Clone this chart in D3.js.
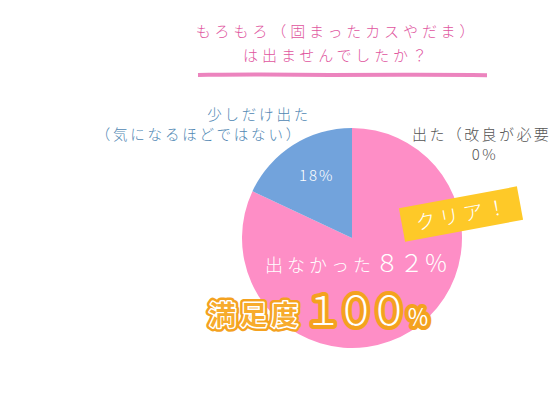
<!DOCTYPE html>
<html>
<head>
<meta charset="utf-8">
<script src="https://cdn.jsdelivr.net/npm/d3@7"></script>
<style>
  html, body { margin: 0; padding: 0; background: #fff; overflow: hidden; }
  text { font-family: "Noto Sans CJK JP", sans-serif; }
</style>
</head>
<body>
<script>
// survey answers (percent)
let categories = ["出なかった", "出た（改良が必要）", "少しだけ出た"];
let values = [82, 0, 18];
let colors = ["#fe8ec6", "#fe8ec6", "#72a3dc"];
let titleLines = ["もろもろ（固まったカスやだま）", "は出ませんでしたか？"];

let w = 550, h = 411;
let cx = 352, cy = 238, r = 110;

let svg = d3.select("body").append("svg").attr("width", w).attr("height", h);

// full-width digits like the original artwork
function full(s) {
  return String(s).replace(/[0-9%]/g, ch => String.fromCharCode(ch.charCodeAt(0) + 0xFEE0));
}

// title
svg.selectAll("text.title")
  .data(titleLines)
  .enter()
  .append("text")
  .attr("class", "title")
  .attr("x", 337)
  .attr("y", (d, i) => 37 + i * 24)
  .attr("text-anchor", "middle")
  .attr("font-size", 15)
  .attr("font-weight", 300)
  .attr("letter-spacing", 3.9)
  .attr("fill", "#e0559e")
  .text(d => d);

// brush underline
let brush = d3.line().curve(d3.curveBasis);
let under = [[198, 75], [260, 74.2], [330, 75.4], [400, 74.4], [487, 75.2]];
svg.append("path")
  .attr("d", brush(under))
  .attr("fill", "none")
  .attr("stroke", "#e96fb3")
  .attr("stroke-width", 4)
  .attr("stroke-linecap", "butt")
  .attr("opacity", 0.85);

// pie
let pie = d3.pie().sort(null).value(d => d);
let arc = d3.arc().innerRadius(0).outerRadius(r);
let g = svg.append("g").attr("transform", `translate(${cx},${cy})`);
g.selectAll("path")
  .data(pie(values))
  .enter()
  .append("path")
  .attr("d", arc)
  .attr("fill", (d, i) => colors[i]);

// 18% label
let blue = pie(values)[2];
let lab = d3.arc().innerRadius(r * 0.6).outerRadius(r * 0.6);
let c = lab.centroid(blue);
g.append("text")
  .attr("x", c[0])
  .attr("y", c[1] - 1)
  .attr("text-anchor", "middle")
  .attr("font-size", 15)
  .attr("font-weight", 300)
  .attr("letter-spacing", 2)
  .attr("fill", "#fff")
  .text(values[2] + "%");

// outside labels
let blueLabel = svg.append("text")
  .attr("text-anchor", "end")
  .attr("font-size", 14.5)
  .attr("font-weight", 300)
  .attr("letter-spacing", 2.8)
  .attr("fill", "#4f87b3");
blueLabel.append("tspan").attr("x", 311).attr("y", 120).text(categories[2]);
blueLabel.append("tspan").attr("x", 303).attr("y", 140).text("（気になるほどではない）");

let grayLabel = svg.append("text")
  .attr("font-size", 15)
  .attr("font-weight", 300)
  .attr("letter-spacing", 2.4)
  .attr("fill", "#555");
grayLabel.append("tspan").attr("x", 412).attr("y", 140).text(categories[1]);
grayLabel.append("tspan").attr("x", 485).attr("y", 160).attr("text-anchor", "middle").text(values[1] + "%");

// badge
let badge = svg.append("g").attr("transform", "translate(461,214) rotate(-10.5)");
badge.append("rect")
  .attr("x", -60).attr("y", -17).attr("width", 120).attr("height", 34)
  .attr("fill", "#fec928");
badge.append("text")
  .attr("x", 2).attr("y", 8)
  .attr("text-anchor", "middle")
  .attr("font-size", 20)
  .attr("font-weight", 300)
  .attr("letter-spacing", 4)
  .attr("fill", "#fff")
  .text("クリア！");

// main pink label
let pinkLabel = svg.append("text")
  .attr("x", 265).attr("y", 272)
  .attr("fill", "#fff")
  .attr("font-weight", 300);
pinkLabel.append("tspan").attr("font-size", 18).attr("letter-spacing", 4).text(categories[0]);
pinkLabel.append("tspan").attr("font-size", 24).attr("letter-spacing", 0.5).text(full(values[0] + "%"));

// satisfaction
let sat = values[0] + values[2];
function satText(layer) {
  let t = svg.append("text").attr("x", 209).attr("y", 325);
  t.append("tspan").attr("font-size", 27).attr("font-weight", 700).attr("letter-spacing", 4).text("満足度");
  t.append("tspan").attr("dx", 1).attr("font-size", 40).attr("font-weight", 300).attr("letter-spacing", -7).text(full(sat));
  t.append("tspan").attr("dx", 5).attr("font-size", 22).attr("font-weight", 400).text(full("%"));
  layer(t);
}
satText(t => t.attr("fill", "#f4a21f").attr("stroke", "#f4a21f").attr("stroke-width", 8).attr("stroke-linejoin", "round"));
satText(t => {
  t.attr("fill", "#fff").attr("stroke", "#fff").attr("stroke-width", 3).attr("stroke-linejoin", "round");
  t.selectAll("tspan").filter((d, i) => i > 0).attr("stroke", "#f4a21f").attr("stroke-width", 3);
});
satText(t => {
  t.attr("fill", "#fff");
  t.select("tspan").attr("fill", "#f7ab2c");
});
</script>
</body>
</html>
